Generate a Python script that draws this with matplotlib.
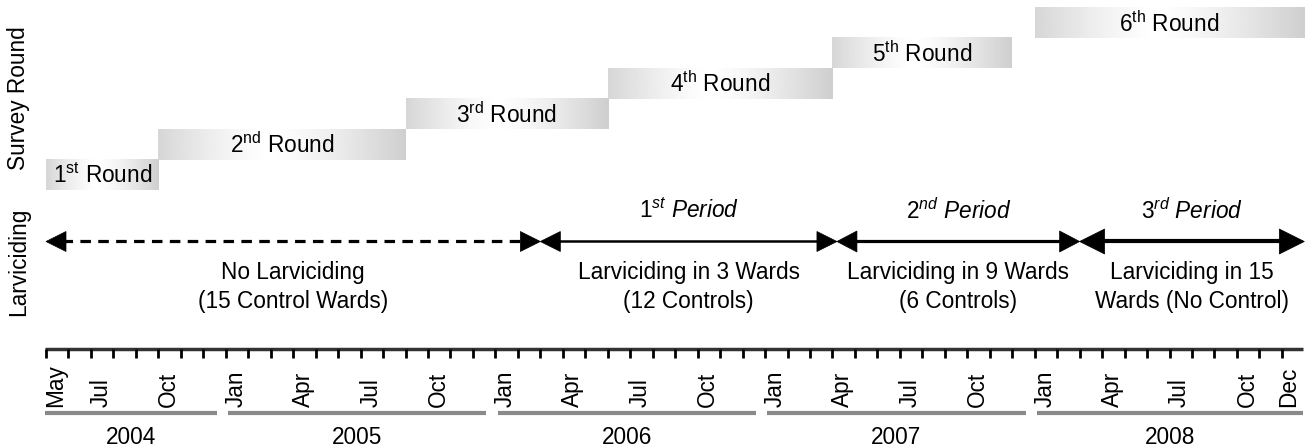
import numpy as np
import matplotlib.pyplot as plt
from matplotlib.patches import Polygon

plt.rcParams['font.family'] = ['Liberation Sans', 'DejaVu Sans']
plt.rcParams['mathtext.fontset'] = 'custom'
plt.rcParams['mathtext.rm'] = 'Liberation Sans'
plt.rcParams['mathtext.it'] = 'Liberation Sans:italic'

# months counted from May 2004 (index 0) to Dec 2008 (index 55)
n_months = 56
tick_idx = [0, 2, 5, 8, 11, 14, 17, 20, 23, 26, 29, 32, 35, 38, 41, 44, 47, 50, 53, 55]
tick_lab = ['May', 'Jul', 'Oct', 'Jan', 'Apr', 'Jul', 'Oct', 'Jan', 'Apr', 'Jul', 'Oct',
            'Jan', 'Apr', 'Jul', 'Oct', 'Jan', 'Apr', 'Jul', 'Oct', 'Dec']
years = ['2004', '2005', '2006', '2007', '2008']
year_first = [0, 8, 20, 32, 44]
year_last = [7, 19, 31, 43, 55]

# survey rounds (month index start / end)
rounds = ['1$^{\\rm st}$ Round', '2$^{\\rm nd}$ Round', '3$^{\\rm rd}$ Round',
          '4$^{\\rm th}$ Round', '5$^{\\rm th}$ Round', '6$^{\\rm th}$ Round']
round_start = [0, 5, 16, 25, 35, 44]
round_end = [5, 16, 25, 35, 43, 56]

# larviciding periods
period_bounds = [0, 22, 35.2, 46, 56]
period_names = ['', '$\\mathit{1}^{\\mathit{st}}$ Period', '$\\mathit{2}^{\\mathit{nd}}$ Period',
                '$\\mathit{3}^{\\mathit{rd}}$ Period']
period_desc = ['No Larviciding\n(15 Control Wards)', 'Larviciding in 3 Wards\n(12 Controls)',
               'Larviciding in 9 Wards\n(6 Controls)', 'Larviciding in 15\nWards (No Control)']

W, H = 1305, 448
x0px, pxm = 46, 22.47   # pixel of first month tick, pixels per month

fig = plt.figure(figsize=(W / 100, H / 100), dpi=100)
ax = fig.add_axes([0, 0, 1, 1])
xlim = (-x0px / pxm, (W - x0px) / pxm)

fs = 16.3

# rounds with grey-white-grey gradient
t = np.linspace(0, 1, 200)
grad = 1 - np.where(t < 0.45, 0.16 * (1 - t / 0.45) ** 1.3, 0.19 * ((t - 0.45) / 0.55) ** 1.3)
grad = grad[None, :]
for k, (lab, s, e) in enumerate(zip(rounds, round_start, round_end)):
    yb = 190 - 30.4 * k
    yt = yb - 30.4
    ax.imshow(grad, extent=[s, e, yb, yt], aspect='auto', cmap='gray', vmin=0, vmax=1,
              interpolation='bilinear', zorder=1)
    ax.text((s + e) / 2, (yb + yt) / 2 + 1, lab, ha='center', va='center', fontsize=fs, zorder=2)

# arrows
y_arr = 241.5
styles = [dict(ls=(0, (3.3, 2.3)), lw=2.3, head=20, hh=10),
          dict(ls='-', lw=1.8, head=20, hh=10),
          dict(ls='-', lw=2.3, head=20, hh=10.5),
          dict(ls='-', lw=3.0, head=25, hh=12.5)]


def head(xt, direction, L, hh):
    xb = xt - direction * L / pxm
    return Polygon([(xt, y_arr), (xb, y_arr - hh), (xb, y_arr + hh)], closed=True,
                   facecolor='black', edgecolor='black', lw=0.5, zorder=3)


for i in range(4):
    a, b = period_bounds[i], period_bounds[i + 1]
    st = styles[i]
    L = st['head']
    ax.plot([a + L / pxm * 0.8, b - L / pxm * 0.8], [y_arr, y_arr], color='black',
            lw=st['lw'], ls=st['ls'], solid_capstyle='butt', dash_capstyle='butt', zorder=2)
    ax.add_patch(head(a, -1, L, st['hh']))
    ax.add_patch(head(b, 1, L, st['hh']))
    mid = (a + b) / 2
    if period_names[i]:
        ax.text(mid, 211, period_names[i], ha='center', va='center', fontsize=fs, style='italic')
    ax.text(mid, 287, period_desc[i], ha='center', va='center', fontsize=fs, linespacing=1.3)

# side labels
ax.text(-27 / pxm, 98, 'Survey Round', rotation=90, ha='center', va='center', fontsize=fs)
ax.text(-27 / pxm, 262, 'Larviciding', rotation=90, ha='center', va='center', fontsize=fs)

# time axis
ax.plot([-0.05, 55.95], [349, 349], color='#333333', lw=2.5, solid_capstyle='butt', zorder=2)
for m in range(n_months):
    ax.plot([m, m], [349, 358], color='black', lw=2.0, solid_capstyle='butt', zorder=2)
for m, lab in zip(tick_idx, tick_lab):
    off = 0.45 if m < 55 else 0.3
    ax.text(m + off, 407, lab, rotation=90, ha='center', va='bottom', fontsize=fs)
for i, (yr, f, l) in enumerate(zip(years, year_first, year_last)):
    s = f + 0.1 if i > 0 else -0.05
    e = l + 0.6 if i < len(years) - 1 else 55.95
    ax.plot([s, e], [413, 413], color='#8a8a8a', lw=3.0, solid_capstyle='butt')
    ax.text((s + e) / 2, 437, yr, ha='center', va='center', fontsize=fs)

ax.set_xlim(*xlim)
ax.set_ylim(H, 0)
ax.axis('off')
fig.savefig('out.png', dpi=100)
